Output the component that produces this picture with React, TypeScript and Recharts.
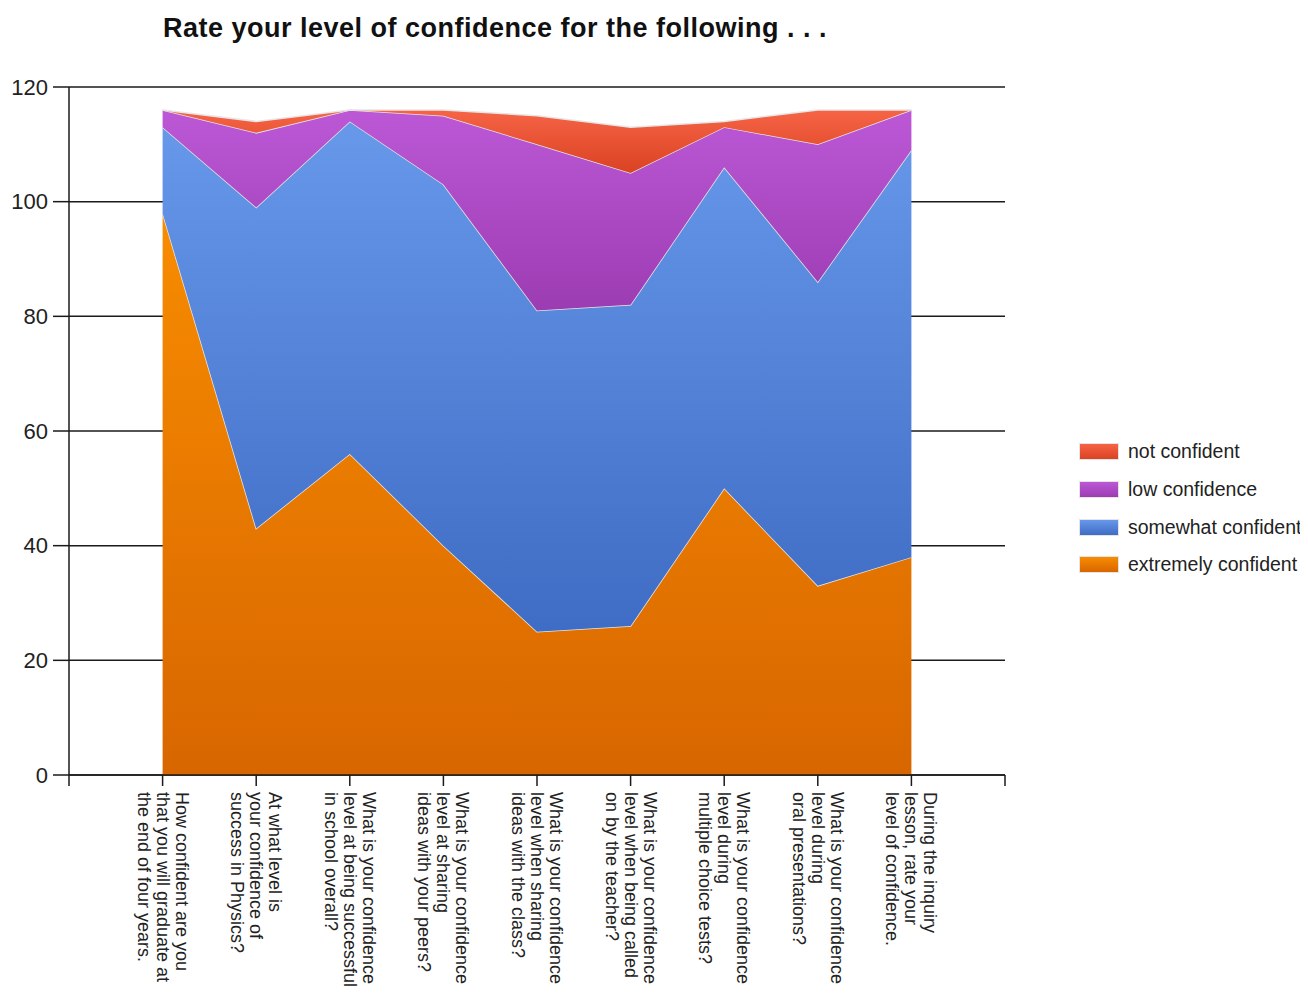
import React from "react";
import { AreaChart, Area, XAxis, YAxis, CartesianGrid, Legend } from "recharts";

// Survey questions, one entry per category, already broken into label lines
const questions: string[][] = [
  ["How confident are you", "that you will graduate at", "the end of four years."],
  ["At what level is", "your confidence of", "success in Physics?"],
  ["What is your confidence", "level at being successful", "in school overall?"],
  ["What is your confidence", "level at sharing", "ideas with your peers?"],
  ["What is your confidence", "level when sharing", "ideas with the class?"],
  ["What is your confidence", "level when being called", "on by the teacher?"],
  ["What is your confidence", "level during", "multiple choice tests?"],
  ["What is your confidence", "level during", "oral presentations?"],
  ["During the inquiry", "lesson, rate your", "level of confidence."],
];

// Response counts per question
const extremelyConfident = [98, 43, 56, 40, 25, 26, 50, 33, 38];
const somewhatConfident = [15, 56, 58, 63, 56, 56, 56, 53, 71];
const lowConfidence = [3, 13, 2, 12, 29, 23, 7, 24, 7];
const notConfident = [0, 2, 0, 1, 5, 8, 1, 6, 0];

const yTicks = [0, 20, 40, 60, 80, 100, 120];
const xTicks = [0, 1, 2, 3, 4, 5, 6, 7, 8, 9, 10];

const FONT = "Arial, 'Liberation Sans', sans-serif";

// stacking order: bottom to top
const series = [
  { key: "extremely", name: "extremely confident", top: "#f88c00", bottom: "#d86600" },
  { key: "somewhat", name: "somewhat confident", top: "#6798ea", bottom: "#3f6cc4" },
  { key: "low", name: "low confidence", top: "#bc58d6", bottom: "#9c3cb2" },
  { key: "notConf", name: "not confident", top: "#f66446", bottom: "#da4222" },
];

const data = questions.map((_, i) => ({
  pos: i + 1,
  extremely: extremelyConfident[i],
  somewhat: somewhatConfident[i],
  low: lowConfidence[i],
  notConf: notConfident[i],
}));

function QuestionTick(props: any) {
  const { x, y, payload } = props;
  const lines = questions[payload.value - 1];
  if (!lines) return null;
  return (
    <text
      x={x}
      y={y}
      transform={`rotate(90, ${x}, ${y})`}
      fontFamily={FONT}
      fontSize={18}
      fill="#222"
      textAnchor="start"
    >
      {lines.map((line, i) => (
        <tspan key={i} x={x} dy={i === 0 ? -13 : 19}>
          {line}
        </tspan>
      ))}
    </text>
  );
}

function ConfidenceLegend() {
  return (
    <div style={{ fontFamily: FONT, fontSize: 19.5, color: "#222" }}>
      {[...series].reverse().map((s) => (
        <div key={s.key} style={{ display: "flex", alignItems: "center", height: 37.7 }}>
          <span
            style={{
              display: "inline-block",
              width: 38,
              height: 15,
              marginRight: 10,
              background: `linear-gradient(${s.top}, ${s.bottom})`,
              boxShadow: "0 0 0 1px #e4e4e4",
            }}
          />
          <span style={{ whiteSpace: "nowrap" }}>{s.name}</span>
        </div>
      ))}
    </div>
  );
}

export default function App() {
  return (
    <div style={{ position: "relative", width: 1292, height: 986 }}>
      <div
        style={{
          position: "absolute",
          left: 155,
          top: 5,
          fontFamily: FONT,
          fontSize: 27,
          lineHeight: "30px",
          fontWeight: "bold",
          letterSpacing: 0.5,
          color: "#111",
          whiteSpace: "nowrap",
          zIndex: 1,
        }}
      >
        Rate your level of confidence for the following . . .
      </div>
      <AreaChart
        width={1292}
        height={986}
        data={data}
        margin={{ top: 79, right: 295, bottom: 18, left: 0 }}
      >
        <defs>
          {series.map((s) => (
            <linearGradient key={s.key} id={`fill-${s.key}`} x1="0" y1="0" x2="0" y2="1">
              <stop offset="0%" stopColor={s.top} />
              <stop offset="100%" stopColor={s.bottom} />
            </linearGradient>
          ))}
        </defs>
        <CartesianGrid vertical={false} stroke="#1a1a1a" strokeWidth={1.5} />
        <XAxis
          dataKey="pos"
          type="number"
          domain={[0, 10]}
          ticks={xTicks}
          interval={0}
          height={201}
          tickSize={11}
          tickMargin={6}
          stroke="#1a1a1a"
          strokeWidth={1.5}
          tick={<QuestionTick />}
        />
        <YAxis
          domain={[0, 120]}
          ticks={yTicks}
          interval={0}
          width={61}
          tickSize={16}
          tickMargin={5}
          stroke="#1a1a1a"
          strokeWidth={1.5}
          tick={{ fontFamily: FONT, fontSize: 22, fill: "#222" }}
        />
        {series.map((s) => (
          <Area
            key={s.key}
            type="linear"
            dataKey={s.key}
            name={s.name}
            stackId="answers"
            fill={`url(#fill-${s.key})`}
            fillOpacity={1}
            stroke="#e6e6e6"
            strokeWidth={1.5}
            isAnimationActive={false}
          />
        ))}
        <Legend
          layout="vertical"
          align="center"
          verticalAlign="middle"
          wrapperStyle={{ position: "absolute", left: 1072, top: 425, width: 230 }}
          content={() => <ConfidenceLegend />}
        />
      </AreaChart>
    </div>
  );
}
